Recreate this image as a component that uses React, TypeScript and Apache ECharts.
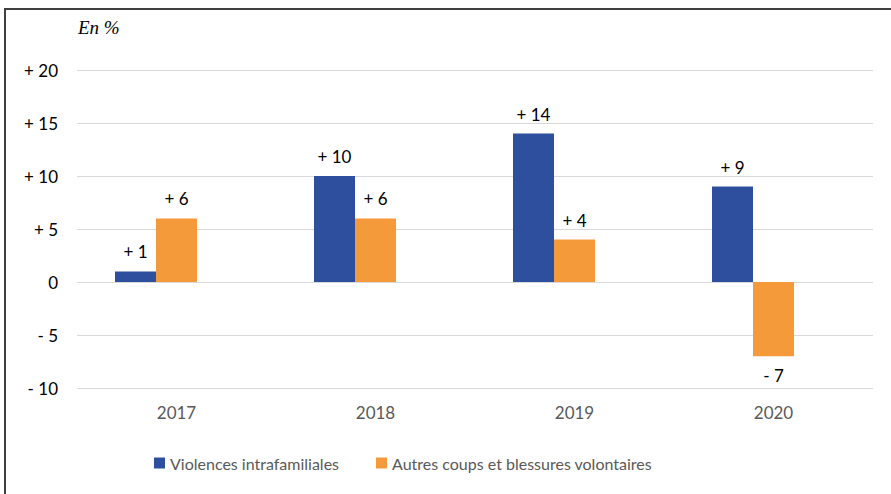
import React, { useEffect, useRef } from "react";
import * as echarts from "echarts";

const categories = ["2017", "2018", "2019", "2020"];
const seriesNames = ["Violences intrafamiliales", "Autres coups et blessures volontaires"];
const violences = [1, 10, 14, 9];
const autres = [6, 6, 4, -7];
const emptySeries = [null, null, null, null];
const unitLabel = "En %";

const fmt = (v: number) => (v > 0 ? "+ " + v : v < 0 ? "- " + Math.abs(v) : "0");
const FONT = "Lato, 'Open Sans', sans-serif";

export default function App() {
  const ref = useRef<HTMLDivElement>(null);
  useEffect(() => {
    if (!ref.current) return;
    const chart = echarts.init(ref.current, null, { renderer: "svg" });
    const labelCfg = {
      show: true,
      distance: 11,
      color: "#000",
      fontSize: 17,
      fontFamily: FONT,
      formatter: (p: any) => fmt(p.value),
    };
    chart.setOption({
      animation: false,
      backgroundColor: "#fff",
      textStyle: { fontFamily: FONT },
      grid: { left: 77, right: 18, top: 70, bottom: 106, containLabel: false },
      legend: {
        left: 149,
        top: 450,
        itemWidth: 11,
        itemHeight: 11,
        itemGap: 37,
        icon: "rect",
        textStyle: { color: "#595959", fontSize: 16, fontFamily: FONT },
        data: seriesNames,
      },
      graphic: [
        {
          type: "rect",
          shape: { x: 5, y: 9, width: 900, height: 500 },
          style: { fill: "none", stroke: "#404040", lineWidth: 2 },
          silent: true,
        },
        {
          type: "text",
          left: 78,
          top: 18,
          style: {
            text: unitLabel,
            fontFamily: "'Liberation Serif', 'DejaVu Serif', serif",
            fontStyle: "italic",
            fontSize: 19,
            fill: "#000",
          },
        },
      ],
      xAxis: {
        type: "category",
        data: categories,
        axisLine: { show: false },
        axisTick: { show: false },
        axisLabel: { color: "#595959", fontSize: 17, margin: 16, fontFamily: FONT },
      },
      yAxis: {
        type: "value",
        min: -10,
        max: 20,
        interval: 5,
        axisLine: { show: false },
        axisTick: { show: false },
        splitLine: { lineStyle: { color: "#d9d9d9", width: 1 } },
        axisLabel: {
          color: "#000",
          fontSize: 17,
          margin: 19,
          fontFamily: FONT,
          formatter: (v: number) => fmt(v),
        },
      },
      series: [
        {
          name: seriesNames[0],
          type: "bar",
          data: violences,
          barWidth: 41,
          barGap: "0%",
          itemStyle: { color: "#2E4F9E" },
          label: { ...labelCfg, position: "top" },
        },
        {
          name: seriesNames[1],
          type: "bar",
          data: autres.map((v) => ({
            value: v,
            label: { position: v < 0 ? "bottom" : "top" },
          })),
          barWidth: 41,
          barGap: "0%",
          itemStyle: { color: "#F59A3A" },
          label: { ...labelCfg, position: "top" },
        },
        {
          name: "vide",
          type: "bar",
          data: emptySeries,
          barWidth: 41,
          barGap: "0%",
          itemStyle: { color: "transparent" },
        },
      ],
    });
    return () => chart.dispose();
  }, []);
  return (
    <div
      ref={ref}
      style={{ position: "fixed", left: 0, top: 0, width: 891, height: 494 }}
    />
  );
}
